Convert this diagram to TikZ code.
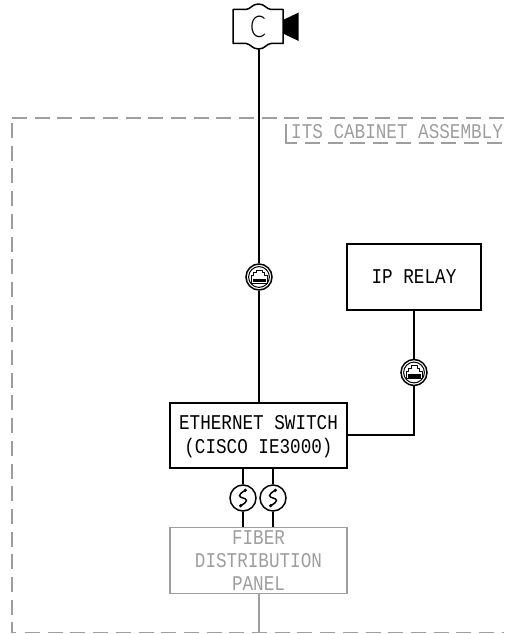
\documentclass[tikz,border=0pt]{standalone}
\usepackage{fontspec}
\setmainfont{Liberation Mono}
\newfontfamily\cadfont[FakeStretch=0.84]{Liberation Mono}
\newfontfamily\camfont[FakeStretch=0.78]{Lato Light}
\definecolor{cadgray}{HTML}{9E9E9E}
\tikzset{
  x=1pt,y=-1pt,
  wire/.style={draw=black,line width=1.8pt},
  boxn/.style={draw=black,line width=1.8pt,fill=white,inner sep=0pt,align=center,font=\cadfont\fontsize{21}{24}\selectfont},
  graybox/.style={boxn,draw=cadgray,text=cadgray,line width=1.8pt},
  ringn/.style={circle,draw=black,line width=1.5pt,fill=white,minimum size=26pt,inner sep=0pt},
  grayline/.style={draw=cadgray,line width=1.7pt},
  dashline/.style={draw=cadgray,line width=1.6pt,dash pattern=on 15pt off 7.7pt},
  rjicon/.pic={
    \draw[black,line width=1pt] (0,0) circle[radius=10.4];
    \draw[black,line width=1pt,line join=round] (-8,6.2) -- (-8,-1.5) -- (-5.5,-1.5) -- (-5.5,-4.5) -- (-3,-4.5) -- (-3,-7) -- (3,-7) -- (3,-4.5) -- (5.5,-4.5) -- (5.5,-1.5) -- (8,-1.5) -- (8,6.2) -- cycle;
    \fill[black] (-6.5,1.5) rectangle (6.5,5);
  },
  fibicon/.pic={
    \draw[black,line width=1.5pt] (2.3,-7.7) .. controls (-6,-3) and (-4,-1) .. (0,0) .. controls (4,1) and (6,3) .. (-2.3,7.7);
    \fill[black] (2.3,-7.7) circle[radius=1.8];
    \fill[black] (-2.3,7.7) circle[radius=1.8];
  }
}
\begin{document}
\begin{tikzpicture}
\useasboundingbox (0,0) rectangle (504,634);
% cabinet
\draw[dashline] (12,118) -- (504,118);
\draw[dashline] (12,123) -- (12,633);
\draw[grayline,line width=1.6pt] (11.2,632.5) -- (16,632.5);
\draw[dashline] (25,632.5) -- (504,632.5);
\draw[grayline,line width=1.4pt] (286,124) -- (286,143) -- (297,143);
\draw[dashline] (305,143) -- (504,143);
\node[text=cadgray,font=\cadfont\fontsize{21}{24}\selectfont,anchor=west,inner sep=0pt] (cab) at (291,132) {ITS CABINET ASSEMBLY};
% coordinates
\coordinate (camb) at (259,49);
\node[boxn,minimum width=177pt,minimum height=65pt] (sw) at (258.5,435.5) {};
\node[inner sep=0pt,align=center,font=\cadfont\fontsize{21}{24}\selectfont] (swt1) at (258.5,437) {ETHERNET SWITCH\\(CISCO IE3000)};
\node[graybox,minimum width=177pt,minimum height=66pt,font=\cadfont\fontsize{21}{23}\selectfont] (fdp) at (258.5,560.5) {FIBER\\DISTRIBUTION\\PANEL};
\node[boxn,minimum width=134pt,minimum height=66pt] (relay) at (414,277) {IP RELAY};
\coordinate (cabbot) at (259,632);
\coordinate (swr) at (347,435);
\coordinate (relayd) at (414,435);
\coordinate (swt) at (259,403);
\coordinate (fdpb) at (259,593);
\node[ringn] (rj1) at (259,277) {};
\node[ringn] (rj2) at (414,372.5) {};
\node[ringn] (f1) at (243,498) {};
\node[ringn] (f2) at (273,498) {};
\pic at (rj1) {rjicon};
\pic at (rj2) {rjicon};
\pic at (f1) {fibicon};
\pic at (f2) {fibicon};
% connectors
\draw[wire] (camb) -- (rj1);
\draw[wire] (rj1) -- (swt);
\draw[wire] (relay.south) -- (rj2);
\draw[wire] (rj2) -- (relayd) -- (swr);
\draw[wire] (f1 |- sw.south) -- (f1);
\draw[wire] (f2 |- sw.south) -- (f2);
\draw[wire] (f1) -- (f1 |- fdp.north);
\draw[wire] (f2) -- (f2 |- fdp.north);
\draw[grayline] (fdpb) -- (cabbot);
% camera
\draw[black,line width=1.5pt,line join=round] (233,9.5) -- (246,9.5) .. controls (251,9) and (252,4) .. (258.5,4) .. controls (265,4) and (266,9) .. (271,9.5) -- (283,9.5) -- (283,43.5) -- (271,43.5) .. controls (266,44) and (265,49) .. (258.5,49) .. controls (252,49) and (251,44) .. (246,43.5) -- (233,43.5) -- cycle;
\fill[black] (283,20) -- (298.7,12.5) -- (298.7,41) -- (283,33.5) -- cycle;
\node[inner sep=0pt,font=\camfont\fontsize{30}{30}\selectfont] (camc) at (258,27) {C};
\end{tikzpicture}
\end{document}
